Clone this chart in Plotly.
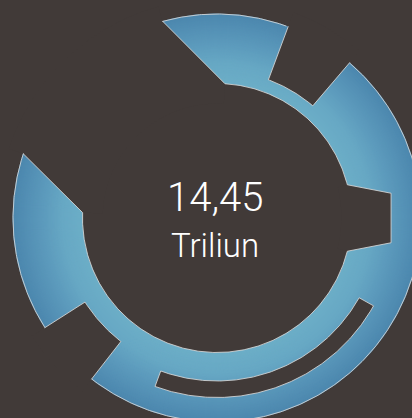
import numpy as np
import plotly.graph_objects as go

# ---------------- data ----------------
value_text = "14,45"
unit_text = "Triliun"

# ring geometry (radii in px units, angles in degrees clockwise from 12 o'clock)
ring_inner = 134.5
ring_outer = 204.5
centre = (217, 218)
W, H = 412, 418

outer_arc_spans = [(40.5, 217.9), (237.5, 288.4), (344.5, 379.9)]
inner_arc_spans = [(3.4, 75.7), (104.3, 272.3)]
left_edge = (288.4, 272.3)        # outer angle -> inner angle
top_edge = (344.5, 363.4)         # outer angle -> inner angle
thin_band = (20.4, 40.5, 147.5)   # from, to, outer radius
notch_angles = [75.7, 81.9, 98.1, 104.3]
notch_radii = [134.5, 175.8, 175.8, 134.5]
short_bar = (217.9, 237.5, 156.5)  # from, to, outer radius
slot = (119.3, 200.2, 163.0, 179.5)  # from, to, r_in, r_out

grad_r = [134.5, 155, 175, 204.5]
grad_c = [(108, 174, 199), (103, 168, 196), (92, 154, 188), (76, 135, 174)]

BG = "#413a38"
OUTLINE = "rgba(215,215,215,0.85)"


def xy(theta, r):
    t = np.radians(np.asarray(theta, dtype=float))
    r = np.asarray(r, dtype=float)
    return list(r * np.sin(t)), list(r * np.cos(t))


def arc(r, a0, a1, step=0.5):
    n = max(2, int(abs(a1 - a0) / step) + 1)
    th = np.linspace(a0, a1, n)
    return xy(th, np.full(n, r))


def color_at(r):
    rgb = [np.interp(r, grad_r, [c[i] for c in grad_c]) for i in range(3)]
    return "rgb(%d,%d,%d)" % tuple(int(round(v)) for v in rgb)


fig = go.Figure()

def fill_poly(xs, ys, color):
    fig.add_trace(go.Scatter(x=xs, y=ys, mode="lines", fill="toself",
                             fillcolor=color, line=dict(width=0, color=color),
                             hoverinfo="skip", showlegend=False))

# gradient ring: discs from outside to inside
for r in np.arange(ring_outer, ring_inner, -1.0):
    xs, ys = arc(r, 0, 360, 1)
    fill_poly(xs, ys, color_at(r))
xs, ys = arc(ring_inner, 0, 360, 1)
fill_poly(xs, ys, BG)

# ---- cut-outs (background colour) ----
# top-left gap
gx, gy = [], []
px, py = xy([left_edge[0], left_edge[1]], [ring_outer, ring_inner])
gx += px; gy += py
ax_, ay_ = arc(ring_inner - 20, left_edge[1], top_edge[1])
gx += ax_; gy += ay_
px, py = xy([top_edge[1], top_edge[0]], [ring_inner, ring_outer])
gx += px; gy += py
ax_, ay_ = arc(ring_outer + 15, top_edge[0], left_edge[0])
gx += ax_; gy += ay_
fill_poly(gx, gy, BG)

# thin band region
a0, a1, rb = thin_band
bx, by = arc(rb, a0, a1)
cx_, cy_ = arc(ring_outer + 15, a1, a0)
fill_poly(bx + cx_, by + cy_, BG)

# notch
nx, ny = xy(notch_angles, notch_radii)
ix, iy = arc(ring_inner - 10, notch_angles[-1], notch_angles[0])
fill_poly(nx + ix, ny + iy, BG)

# short bar
a0, a1, rs = short_bar
sx, sy = arc(rs, a0, a1)
tx, ty = arc(ring_outer + 15, a1, a0)
fill_poly(sx + tx, sy + ty, BG)

# slot
a0, a1, r0, r1 = slot
sx, sy = arc(r0, a0, a1)
tx, ty = arc(r1, a1, a0)
fill_poly(sx + tx + [sx[0]], sy + ty + [sy[0]], BG)

# ---- outline ----
ox, oy = [], []
def add_line(xs, ys):
    ox.extend(list(xs) + [None]); oy.extend(list(ys) + [None])

for a0, a1 in outer_arc_spans:
    add_line(*arc(ring_outer - 0.5, a0, a1))
for a0, a1 in inner_arc_spans:
    add_line(*arc(ring_inner, a0, a1))
add_line(*xy([left_edge[0], left_edge[1]], [ring_outer, ring_inner]))
add_line(*xy([top_edge[0], top_edge[1]], [ring_outer, ring_inner]))
a0, a1, rb = thin_band
bx, by = arc(rb, a0, a1)
p0x, p0y = xy([a0], [ring_outer]); p1x, p1y = xy([a1], [ring_outer])
add_line(p0x + bx + p1x, p0y + by + p1y)
add_line(*xy(notch_angles, notch_radii))
a0, a1, rs = short_bar
sx, sy = arc(rs, a0, a1)
p0x, p0y = xy([a0], [ring_outer]); p1x, p1y = xy([a1], [ring_outer])
add_line(p0x + sx + p1x, p0y + sy + p1y)
a0, a1, r0, r1 = slot
sx, sy = arc(r0, a0, a1)
tx, ty = arc(r1, a1, a0)
add_line(sx + tx + [sx[0]], sy + ty + [sy[0]])

fig.add_trace(go.Scatter(x=ox, y=oy, mode="lines",
                         line=dict(color=OUTLINE, width=1),
                         hoverinfo="skip", showlegend=False, connectgaps=False))

# ---- centre text ----
fig.add_annotation(x=-2, y=21, xref="x", yref="y", text=value_text,
                   showarrow=False, xanchor="center", yanchor="middle",
                   font=dict(family="Roboto, Lato, sans-serif", size=40,
                             color="white", weight=300))
fig.add_annotation(x=-2, y=-27, xref="x", yref="y", text=unit_text,
                   showarrow=False, xanchor="center", yanchor="middle",
                   font=dict(family="Roboto, Lato, sans-serif", size=33,
                             color="white", weight=300))

fig.update_layout(
    width=W, height=H, margin=dict(l=0, r=0, t=0, b=0),
    paper_bgcolor=BG, plot_bgcolor=BG, showlegend=False,
    xaxis=dict(range=[-centre[0], W - centre[0]], visible=False, fixedrange=True),
    yaxis=dict(range=[-(H - centre[1]), centre[1]], visible=False, fixedrange=True),
)

fig.write_html("out.html")
